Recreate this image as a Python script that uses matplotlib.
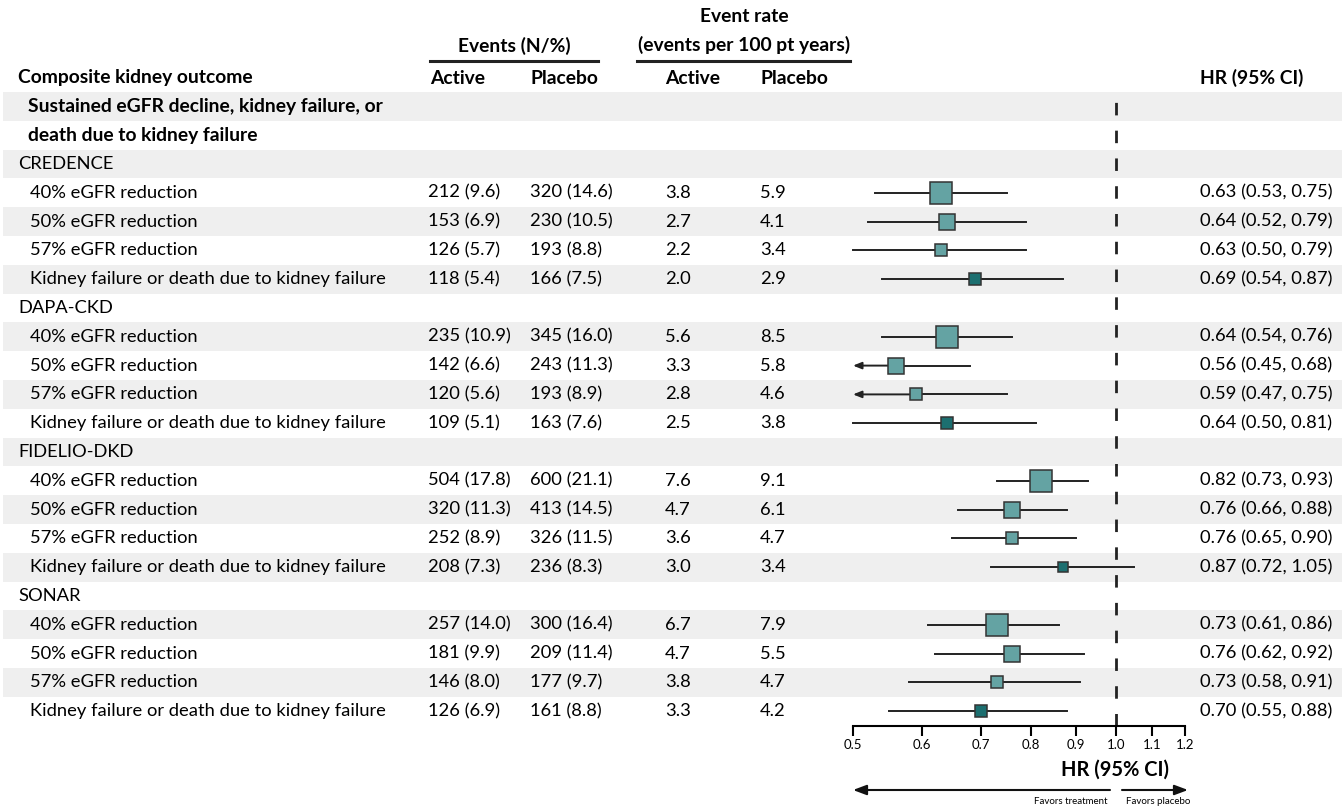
import numpy as np
import matplotlib
matplotlib.use("Agg")
import matplotlib.pyplot as plt

plt.rcParams["font.family"] = ["Lato", "DejaVu Sans"]
plt.rcParams["lines.scale_dashes"] = False

studies = ["CREDENCE", "DAPA-CKD", "FIDELIO-DKD", "SONAR"]
outcomes = ["40% eGFR reduction", "50% eGFR reduction", "57% eGFR reduction",
            "Kidney failure or death due to kidney failure"]

active_n = [212, 153, 126, 118, 235, 142, 120, 109, 504, 320, 252, 208, 257, 181, 146, 126]
active_pct = [9.6, 6.9, 5.7, 5.4, 10.9, 6.6, 5.6, 5.1, 17.8, 11.3, 8.9, 7.3, 14.0, 9.9, 8.0, 6.9]
placebo_n = [320, 230, 193, 166, 345, 243, 193, 163, 600, 413, 326, 236, 300, 209, 177, 161]
placebo_pct = [14.6, 10.5, 8.8, 7.5, 16.0, 11.3, 8.9, 7.6, 21.1, 14.5, 11.5, 8.3, 16.4, 11.4, 9.7, 8.8]
rate_active = [3.8, 2.7, 2.2, 2.0, 5.6, 3.3, 2.8, 2.5, 7.6, 4.7, 3.6, 3.0, 6.7, 4.7, 3.8, 3.3]
rate_placebo = [5.9, 4.1, 3.4, 2.9, 8.5, 5.8, 4.6, 3.8, 9.1, 6.1, 4.7, 3.4, 7.9, 5.5, 4.7, 4.2]
hr = [0.63, 0.64, 0.63, 0.69, 0.64, 0.56, 0.59, 0.64, 0.82, 0.76, 0.76, 0.87, 0.73, 0.76, 0.73, 0.70]
hr_lo = [0.53, 0.52, 0.50, 0.54, 0.54, 0.45, 0.47, 0.50, 0.73, 0.66, 0.65, 0.72, 0.61, 0.62, 0.58, 0.55]
hr_hi = [0.75, 0.79, 0.79, 0.87, 0.76, 0.68, 0.75, 0.81, 0.93, 0.88, 0.90, 1.05, 0.86, 0.92, 0.91, 0.88]
ticks = [0.5, 0.6, 0.7, 0.8, 0.9, 1.0, 1.1, 1.2]

W, H = 1342, 810
ROW0, ROWH = 92, 28.8
NROWS = 2 + len(studies) * (len(outcomes) + 1)
FS = 13.2   # regular text
FSB = 13.9  # bold headers
LIGHT = "#64a3a3"
DARK = "#1c6f70"
BAND = "#efefef"

fig = plt.figure(figsize=(W / 100, H / 100), dpi=100)
bg = fig.add_axes([0, 0, 1, 1])
bg.set_xlim(0, W)
bg.set_ylim(H, 0)
bg.axis("off")

def ry(i):
    return ROW0 + ROWH * (i + 0.5)

# alternating bands
for i in range(0, NROWS, 2):
    bg.axhspan(ROW0 + ROWH * i, ROW0 + ROWH * (i + 1), xmin=3 / W, color=BAND, lw=0, zorder=0)

# header
bg.text(514, 46, "Events (N/%)", ha="center", va="center", fontsize=FSB, fontweight="bold")
bg.plot([430, 598], [61, 61], color="#222", lw=2.2)
bg.text(744, 16, "Event rate", ha="center", va="center", fontsize=FSB, fontweight="bold")
bg.text(744, 45, "(events per 100 pt years)", ha="center", va="center", fontsize=FSB, fontweight="bold")
bg.plot([637, 850], [61, 61], color="#222", lw=2.2)
for x, s in [(18, "Composite kidney outcome"), (430, "Active"), (530, "Placebo"),
             (665, "Active"), (760, "Placebo"), (1200, "HR (95% CI)")]:
    bg.text(x, 78, s, ha="left", va="center", fontsize=FSB, fontweight="bold")

bg.text(28, ry(0), "Sustained eGFR decline, kidney failure, or", ha="left", va="center",
        fontsize=FSB, fontweight="bold")
bg.text(28, ry(1), "death due to kidney failure", ha="left", va="center",
        fontsize=FSB, fontweight="bold")

# forest axes
ax = fig.add_axes([853 / W, (H - ROW0 - ROWH * NROWS) / H, (1185 - 853) / W, ROWH * NROWS / H])
ax.set_facecolor("none")
ax.set_xscale("log")
ax.set_xlim(0.5, 1.2)
ax.set_ylim(NROWS, 0)
for s in ["top", "left", "right"]:
    ax.spines[s].set_visible(False)
ax.spines["bottom"].set_linewidth(1.5)
ax.set_yticks([])
ax.xaxis.set_minor_locator(matplotlib.ticker.NullLocator())
ax.set_xticks(ticks)
ax.set_xticklabels([f"{t:.1f}" for t in ticks], fontsize=9.5)
ax.tick_params(axis="x", direction="out", length=7, width=1.5, pad=3)
ax.axvline(1.0, color="#222", lw=2, dashes=(9, 11), zorder=1)

k = 0
row = 2
for si, study in enumerate(studies):
    bg.text(18, ry(row), study, ha="left", va="center", fontsize=FS)
    row += 1
    idx = list(range(k, k + len(outcomes)))
    # square size from inverse variance of log HR, relative within study
    w = [1 / np.log(hr_hi[j] / hr_lo[j]) ** 2 for j in idx]
    wmax = max(w)
    for oi, j in enumerate(idx):
        y = ry(row)
        bg.text(30, y, outcomes[oi], ha="left", va="center", fontsize=FS)
        bg.text(428, y, f"{active_n[j]} ({active_pct[j]:.1f})", ha="left", va="center", fontsize=FS)
        bg.text(530, y, f"{placebo_n[j]} ({placebo_pct[j]:.1f})", ha="left", va="center", fontsize=FS)
        bg.text(665, y, f"{rate_active[j]:.1f}", ha="left", va="center", fontsize=FS)
        bg.text(760, y, f"{rate_placebo[j]:.1f}", ha="left", va="center", fontsize=FS)
        bg.text(1200, y, f"{hr[j]:.2f} ({hr_lo[j]:.2f}, {hr_hi[j]:.2f})", ha="left", va="center", fontsize=FS)
        yc = row + 0.5
        if hr_lo[j] < 0.5:
            ax.annotate("", xy=(0.5, yc), xytext=(hr[j], yc),
                        arrowprops=dict(arrowstyle="-|>,head_length=0.5,head_width=0.2",
                                        color="#222", lw=1.4, shrinkA=0, shrinkB=0))
            ax.plot([hr[j], hr_hi[j]], [yc, yc], color="#222", lw=1.4, zorder=2)
        else:
            ax.plot([hr_lo[j], hr_hi[j]], [yc, yc], color="#222", lw=1.4, zorder=2, clip_on=False)
        side = 22 * w[oi] / wmax * 0.72
        col = DARK if oi == len(outcomes) - 1 else LIGHT
        ax.plot(hr[j], yc, marker="s", ms=side, mfc=col, mec="#333", mew=1.1, zorder=3)
        row += 1
    k += len(outcomes)

# bottom labels and arrows
bg.text(1115, 770, "HR (95% CI)", ha="center", va="center", fontsize=FSB + 0.6, fontweight="bold")
bg.annotate("", xy=(853, 790), xytext=(1110, 790),
            arrowprops=dict(arrowstyle="-|>,head_length=0.8,head_width=0.3", color="#111", lw=1.5,
                            shrinkA=0, shrinkB=0))
bg.annotate("", xy=(1188, 790), xytext=(1122, 790),
            arrowprops=dict(arrowstyle="-|>,head_length=0.8,head_width=0.3", color="#111", lw=1.5,
                            shrinkA=0, shrinkB=0))
bg.text(1108, 802, "Favors treatment", ha="right", va="center", fontsize=7)
bg.text(1126, 802, "Favors placebo", ha="left", va="center", fontsize=7)

fig.savefig("out.png", dpi=100)
